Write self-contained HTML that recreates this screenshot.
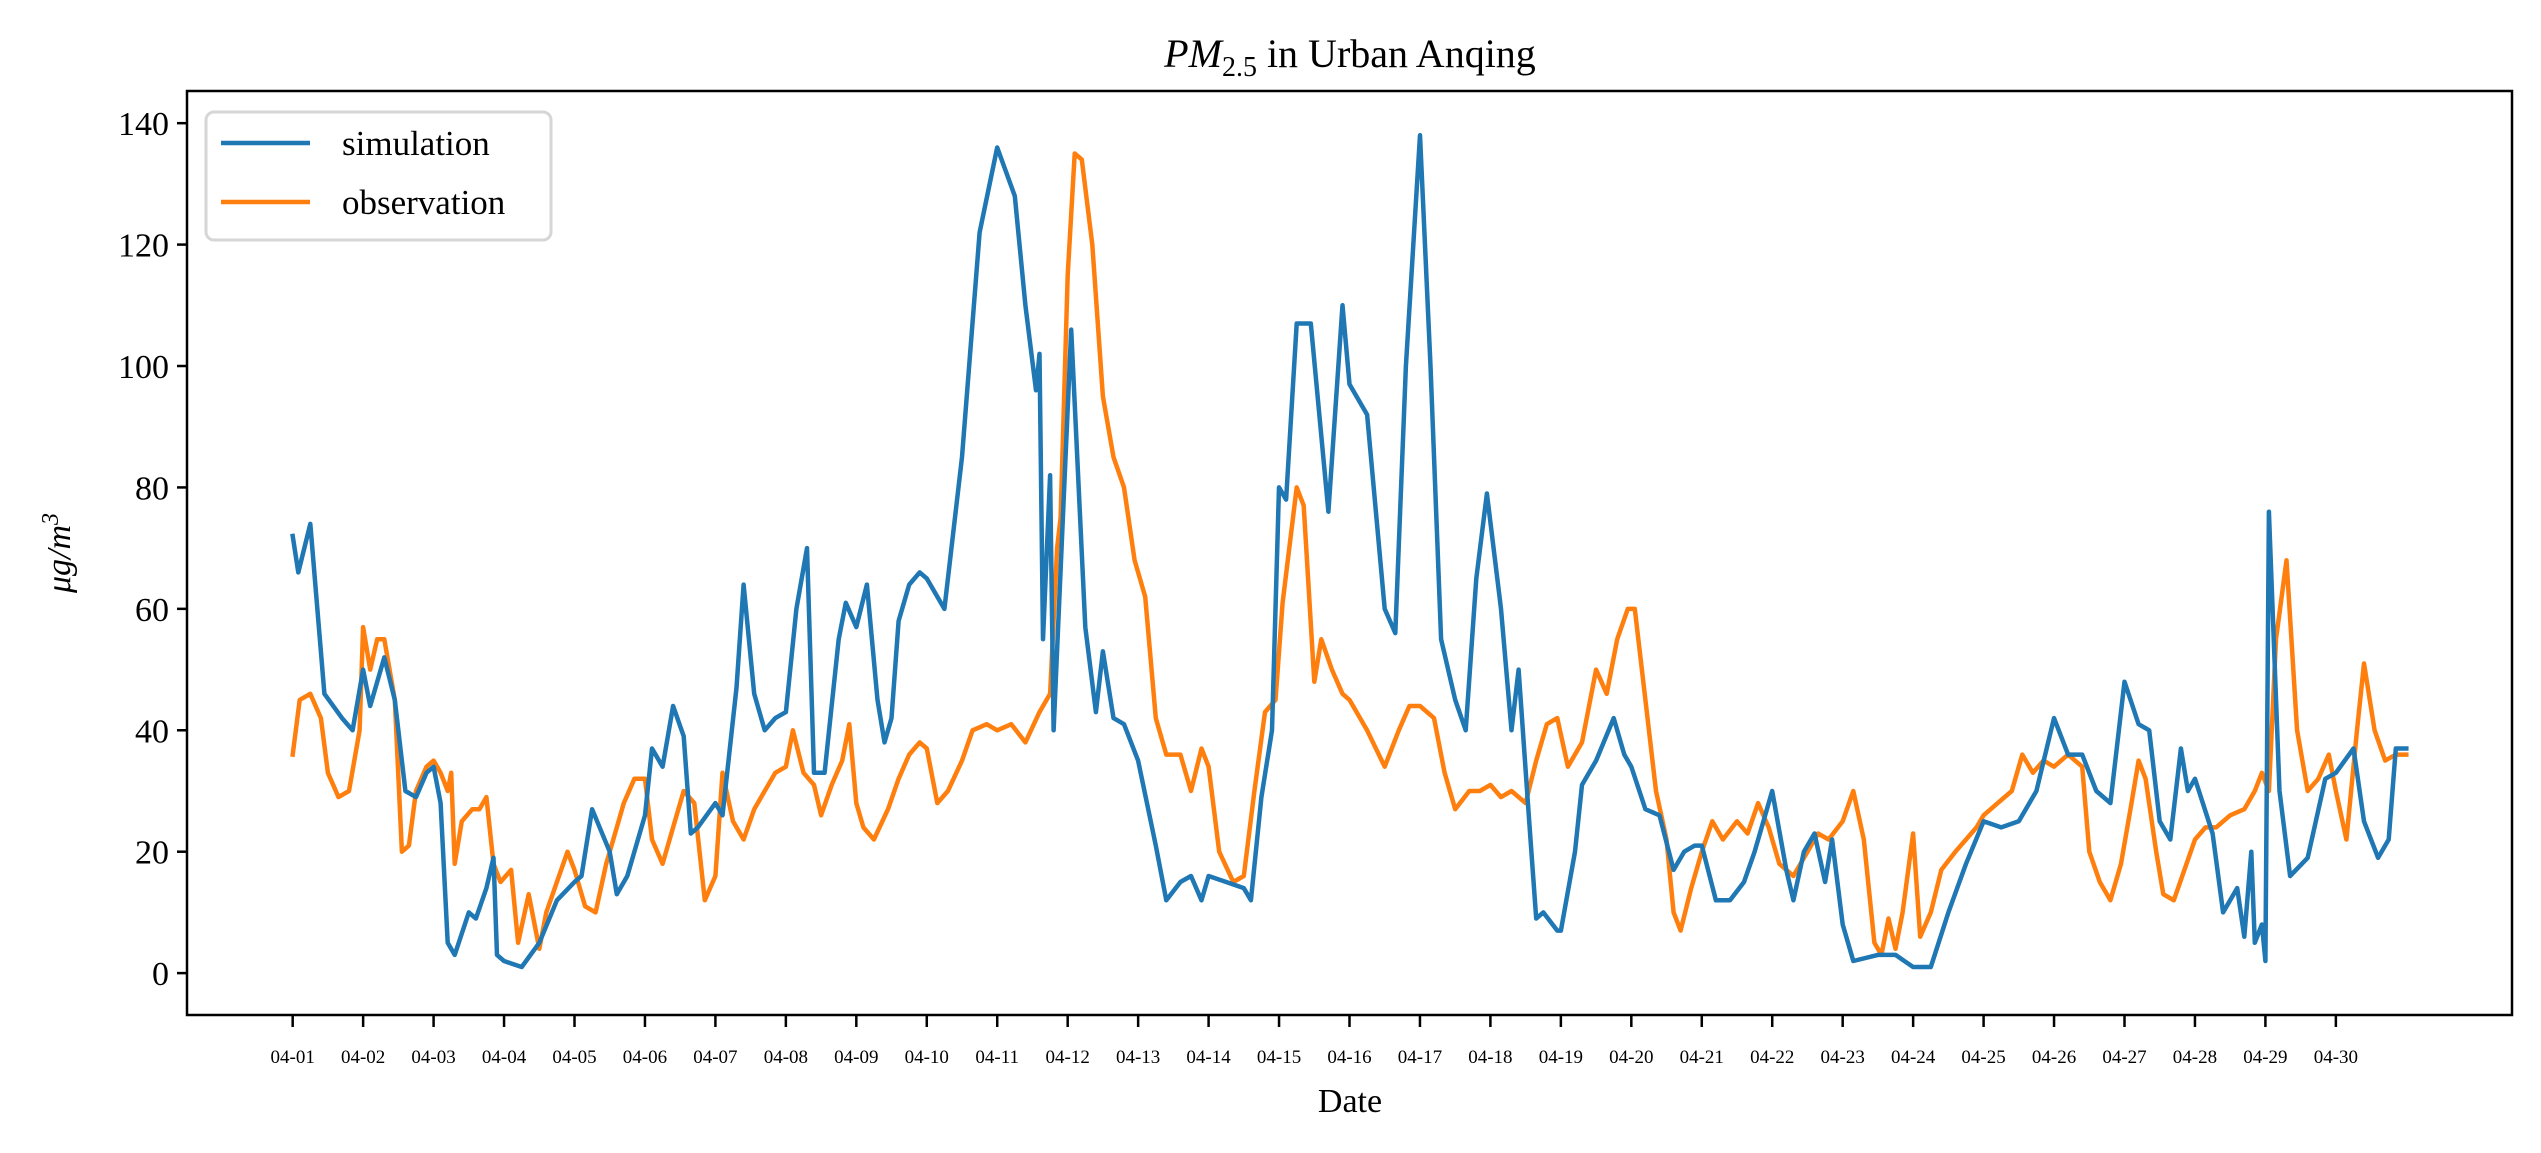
<!DOCTYPE html>
<html><head><meta charset="utf-8"><style>
html,body{margin:0;padding:0;background:#fff;}
svg{display:block;font-family:"Liberation Serif",serif;}
</style></head><body>
<svg id="chart" width="2541" height="1153" viewBox="0 0 2541 1153" xmlns="http://www.w3.org/2000/svg">
<rect x="0" y="0" width="2541" height="1153" fill="#fff"/>
<text x="1350" y="67" text-anchor="middle" font-size="40"><tspan font-style="italic">PM</tspan><tspan font-size="28" dy="9">2.5</tspan><tspan dy="-9"> in Urban Anqing</tspan></text>
<g id="plot"></g>
<g id="axes"></g>
<text x="1350" y="1112" text-anchor="middle" font-size="34">Date</text>
<text transform="translate(70,553) rotate(-90)" text-anchor="middle" font-size="34" font-style="italic">μg/m<tspan font-size="24" dy="-12">3</tspan></text>
<g>
<rect x="206" y="112" width="345" height="128" rx="8" fill="#fff" fill-opacity="0.8" stroke="#d6d6d6" stroke-width="3"/>
<line x1="221" y1="143" x2="310" y2="143" stroke="#1f77b4" stroke-width="4.5"/>
<text x="342" y="155" font-size="35">simulation</text>
<line x1="221" y1="202" x2="310" y2="202" stroke="#ff7f0e" stroke-width="4.5"/>
<text x="342" y="214" font-size="35">observation</text>
</g>
</svg>
<script>
const dayLabels = ["04-01","04-02","04-03","04-04","04-05","04-06","04-07","04-08","04-09","04-10","04-11","04-12","04-13","04-14","04-15","04-16","04-17","04-18","04-19","04-20","04-21","04-22","04-23","04-24","04-25","04-26","04-27","04-28","04-29","04-30"];
const yTicks = [0,20,40,60,80,100,120,140];
const simT = [0,0.08,0.25,0.45,0.7,0.85,1.0,1.1,1.3,1.45,1.6,1.75,1.9,2.0,2.1,2.2,2.3,2.5,2.6,2.75,2.85,2.9,3.0,3.25,3.5,3.75,4.0,4.1,4.25,4.5,4.6,4.75,5.0,5.1,5.25,5.4,5.55,5.65,5.75,6.0,6.1,6.3,6.4,6.55,6.7,6.85,7.0,7.15,7.3,7.4,7.55,7.75,7.85,8.0,8.15,8.3,8.4,8.5,8.6,8.75,8.9,9.0,9.25,9.5,9.75,10.0,10.25,10.4,10.55,10.6,10.65,10.75,10.8,10.95,11.05,11.25,11.4,11.5,11.65,11.8,12.0,12.25,12.4,12.6,12.75,12.9,13.0,13.25,13.5,13.6,13.75,13.9,14.0,14.1,14.25,14.45,14.7,14.9,15.0,15.25,15.5,15.65,15.8,16.0,16.15,16.3,16.5,16.65,16.8,16.95,17.15,17.3,17.4,17.55,17.65,17.75,17.95,18.0,18.2,18.3,18.5,18.75,18.9,19.0,19.2,19.4,19.6,19.75,19.9,20.0,20.2,20.4,20.6,20.75,21.0,21.2,21.3,21.45,21.6,21.75,21.85,22.0,22.15,22.5,22.75,23.0,23.25,23.5,23.75,24.0,24.25,24.5,24.75,25.0,25.2,25.4,25.6,25.8,26.0,26.2,26.35,26.5,26.65,26.8,26.9,27.0,27.25,27.4,27.6,27.7,27.8,27.85,27.95,28.0,28.05,28.2,28.35,28.6,28.85,29.0,29.25,29.4,29.6,29.75,29.85,30.0];
const simV = [72,66,74,46,42,40,50,44,52,45,30,29,33,34,28,5,3,10,9,14,19,3,2,1,5,12,15,16,27,20,13,16,26,37,34,44,39,23,24,28,26,47,64,46,40,42,43,60,70,33,33,55,61,57,64,45,38,42,58,64,66,65,60,85,122,136,128,110,96,102,55,82,40,80,106,57,43,53,42,41,35,21,12,15,16,12,16,15,14,12,29,40,80,78,107,107,76,110,97,92,60,56,100,138,100,55,45,40,65,79,60,40,50,25,9,10,7,7,20,31,35,42,36,34,27,26,17,20,21,21,12,12,15,20,30,17,12,20,23,15,22,8,2,3,3,1,1,10,18,25,24,25,30,42,36,36,30,28,48,41,40,25,22,37,30,32,23,10,14,6,20,5,8,2,76,30,16,19,32,33,37,25,19,22,37,37];
const obsT = [0,0.1,0.25,0.4,0.5,0.65,0.8,0.95,1.0,1.1,1.2,1.3,1.45,1.55,1.65,1.75,1.9,2.0,2.1,2.2,2.25,2.3,2.4,2.55,2.65,2.75,2.85,2.95,3.1,3.2,3.35,3.5,3.6,3.75,3.9,4.0,4.15,4.3,4.45,4.55,4.7,4.85,5.0,5.1,5.25,5.4,5.55,5.7,5.85,6.0,6.1,6.25,6.4,6.55,6.7,6.85,7.0,7.1,7.25,7.4,7.5,7.65,7.8,7.9,8.0,8.1,8.25,8.45,8.6,8.75,8.9,9.0,9.15,9.3,9.5,9.65,9.85,10.0,10.2,10.4,10.6,10.75,10.85,10.9,11.0,11.1,11.2,11.35,11.5,11.65,11.8,11.95,12.1,12.25,12.4,12.6,12.75,12.9,13.0,13.15,13.35,13.5,13.65,13.8,13.95,14.05,14.25,14.35,14.5,14.6,14.75,14.9,15.0,15.25,15.5,15.7,15.85,16.0,16.2,16.35,16.5,16.7,16.85,17.0,17.15,17.3,17.5,17.65,17.8,17.95,18.1,18.3,18.5,18.65,18.8,18.95,19.05,19.2,19.35,19.5,19.6,19.7,19.85,20.0,20.15,20.3,20.5,20.65,20.8,20.95,21.1,21.3,21.5,21.65,21.8,22.0,22.15,22.3,22.45,22.55,22.65,22.75,22.85,23.0,23.1,23.25,23.4,23.6,23.75,23.9,24.0,24.2,24.4,24.55,24.7,24.85,25.0,25.2,25.4,25.5,25.65,25.8,25.95,26.1,26.2,26.3,26.45,26.55,26.7,26.85,27.0,27.15,27.3,27.5,27.7,27.85,27.95,28.05,28.15,28.3,28.45,28.6,28.75,28.9,29.0,29.15,29.3,29.4,29.55,29.7,29.85,30.0];
const obsV = [36,45,46,42,33,29,30,40,57,50,55,55,45,20,21,30,34,35,33,30,33,18,25,27,27,29,18,15,17,5,13,4,10,15,20,17,11,10,18,22,28,32,32,22,18,24,30,28,12,16,33,25,22,27,30,33,34,40,33,31,26,31,35,41,28,24,22,27,32,36,38,37,28,30,35,40,41,40,41,38,43,46,70,75,115,135,134,120,95,85,80,68,62,42,36,36,30,37,34,20,15,16,30,43,45,61,80,77,48,55,50,46,45,40,34,40,44,44,42,33,27,30,30,31,29,30,28,35,41,42,34,38,50,46,55,60,60,45,30,22,10,7,14,20,25,22,25,23,28,24,18,16,20,23,22,25,30,22,5,3,9,4,10,23,6,10,17,20,22,24,26,28,30,36,33,35,34,36,34,20,15,12,18,28,35,32,20,13,12,17,22,24,24,26,27,30,33,30,55,68,40,30,32,36,30,22,40,51,40,35,36,36];

const NS = "http://www.w3.org/2000/svg";
const L = 187, R = 2512, T = 91, B = 1015;
const xMin = -1.5, xMax = 31.5, yMin = -6.9, yMax = 145.3;
const xs = d => L + (d - xMin) / (xMax - xMin) * (R - L);
const ys = v => B - (v - yMin) / (yMax - yMin) * (B - T);
const plot = document.getElementById('plot');
const axes = document.getElementById('axes');
function mk(tag, attrs, parent){const e=document.createElementNS(NS,tag);for(const k in attrs)e.setAttribute(k,attrs[k]);parent.appendChild(e);return e;}
function series(t, v, color, name){
  let d = '';
  for (let i=0;i<t.length;i++) d += (i?'L':'M') + xs(t[i]).toFixed(1) + ' ' + ys(v[i]).toFixed(1);
  const p = mk('path',{d:d,fill:'none',stroke:color,'stroke-width':4.5,'stroke-linejoin':'round','stroke-linecap':'square'},plot);
  
  
}
series(obsT, obsV, '#ff7f0e', 'observation-line');
series(simT, simV, '#1f77b4', 'simulation-line');
const frame = mk('rect',{x:L,y:T,width:R-L,height:B-T,fill:'none',stroke:'#000','stroke-width':2.5},axes);


yTicks.forEach(v => {
  const y = ys(v);
  const tk = mk('line',{x1:L-10,x2:L,y1:y,y2:y,stroke:'#000','stroke-width':2.5},axes);
  
  
  const tx = mk('text',{x:L-18,y:y+12,'text-anchor':'end','font-size':34},axes);
  tx.textContent = v;
  
  
});
dayLabels.forEach((lab, i) => {
  const x = xs(i);
  const tk = mk('line',{x1:x,x2:x,y1:B,y2:B+12,stroke:'#000','stroke-width':2.5},axes);
  
  
  const tx = mk('text',{x:x,y:B+48,'text-anchor':'middle','font-size':19},axes);
  tx.textContent = lab;
  
  
});
</script>
</body></html>
